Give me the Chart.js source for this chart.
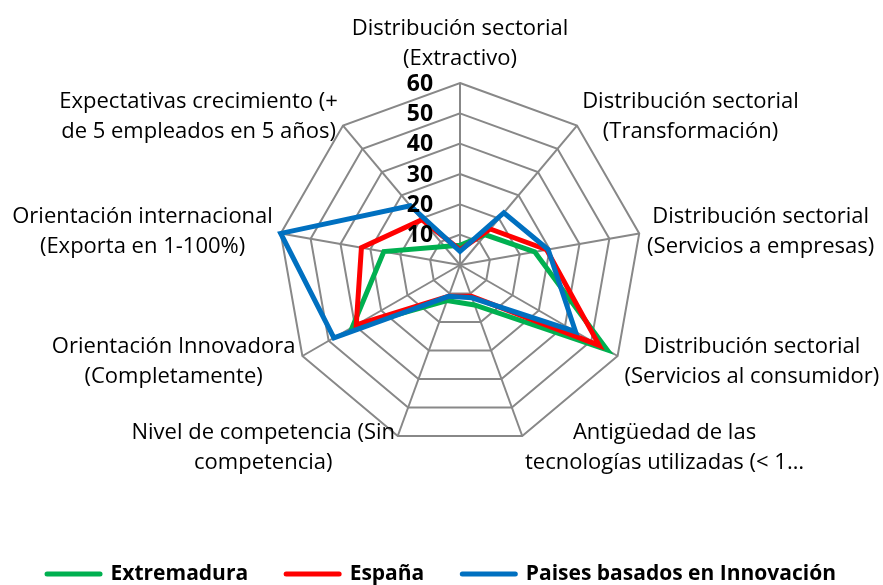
<!DOCTYPE html>
<html>
<head>
<meta charset="utf-8">
<script src="https://cdn.jsdelivr.net/npm/chart.js@4/dist/chart.umd.min.js"></script>
<style>
  html, body { margin: 0; padding: 0; background: #fff; }
  #wrap { width: 883px; height: 585px; position: relative; }
</style>
</head>
<body>
<div id="wrap"><canvas id="radar"></canvas></div>
<script>
'use strict';

// Axis labels, clockwise from the top
const categories = [
  ['Distribución sectorial', '(Extractivo)'],
  ['Distribución sectorial', '(Transformación)'],
  ['Distribución sectorial', '(Servicios a empresas)'],
  ['Distribución sectorial', '(Servicios al consumidor)'],
  ['Antigüedad de las', 'tecnologías utilizadas (< 1…'],
  ['Nivel de competencia (Sin', 'competencia)'],
  ['Orientación Innovadora', '(Completamente)'],
  ['Orientación internacional', '(Exporta en 1-100%)'],
  ['Expectativas crecimiento (+', 'de 5 empleados en 5 años)'],
];

const extremadura = [6.5, 13, 25, 56, 14, 12.5, 41, 25.5, 8];
const espana = [5, 15.5, 29, 53, 11, 11, 39.5, 33, 19.5];
const innovacion = [4.5, 22.5, 29.5, 44, 11.5, 11, 48, 60, 25.5];

const scaleTicks = [0, 10, 20, 30, 40, 50, 60];

const seriesNames = ['Extremadura', 'España', 'Paises basados en Innovación'];
const seriesColors = ['#00B050', '#FF0000', '#0070C0'];

Chart.defaults.font.family = '"Open Sans", sans-serif';

// Excel-style labels: bold ticks left of the top axis, wrapped axis labels
const excelLabels = {
  id: 'excelLabels',
  afterDraw(chart) {
    const scale = chart.scales.r;
    const ctx = chart.ctx;
    ctx.save();
    ctx.fillStyle = '#000';
    ctx.textAlign = 'center';
    ctx.textBaseline = 'middle';

    ctx.font = 'bold 23px "Open Sans"';
    scale.ticks.forEach(t => {
      if (t.value === scaleTicks[0]) return;
      const d = scale.getDistanceFromCenterForValue(t.value);
      ctx.fillText(t.label, scale.xCenter - 40, scale.yCenter - d + 1);
    });

    const lh = 30;
    ctx.font = '22px "Open Sans"';
    categories.forEach((lines, i) => {
      const p = scale.getPointPosition(i, scale.drawingArea + 8);
      const w = Math.max(...lines.map(l => ctx.measureText(l).width));
      const h = lines.length * lh;
      const dx = p.x - scale.xCenter;
      const dy = p.y - scale.yCenter;
      let cx, top;
      if (Math.abs(dx) < 2) {
        cx = p.x;
        top = p.y - h - 1;
      } else {
        cx = dx > 0 ? p.x + w / 2 : p.x - w / 2;
        top = p.y - h / 2 + dy / scale.drawingArea * 4;
      }
      lines.forEach((l, k) => ctx.fillText(l, cx, top + lh * (k + 0.5)));
    });
    ctx.restore();
  },
};

const datasets = [extremadura, espana, innovacion].map((values, i) => ({
  label: seriesNames[i],
  data: values,
  borderColor: seriesColors[i],
  backgroundColor: seriesColors[i],
  borderWidth: 5,
  fill: false,
  pointRadius: 0,
  pointHoverRadius: 0,
  order: 2 - i, // blue on top
}));

new Chart(document.getElementById('radar'), {
  type: 'radar',
  data: { labels: categories, datasets },
  options: {
    responsive: true,
    maintainAspectRatio: false,
    animation: false,
    layout: { padding: { bottom: -9.5 } },
    plugins: {
      tooltip: { enabled: false },
      legend: {
        position: 'bottom',
        labels: {
          usePointStyle: true,
          pointStyle: 'line',
          pointStyleWidth: 53,
          padding: 38,
          color: '#000',
          font: { size: 21, weight: 'bold' },
          generateLabels: chart =>
            chart.data.datasets.map((ds, i) => ({
              text: ds.label,
              strokeStyle: ds.borderColor,
              fillStyle: ds.borderColor,
              lineWidth: 5,
              lineCap: 'round',
              pointStyle: 'line',
              fontColor: '#000',
              hidden: !chart.isDatasetVisible(i),
              datasetIndex: i,
            })),
        },
      },
    },
    scales: {
      r: {
        min: scaleTicks[0],
        max: scaleTicks[scaleTicks.length - 1],
        ticks: { stepSize: scaleTicks[1] - scaleTicks[0], display: false },
        grid: { color: '#888888', lineWidth: 2 },
        angleLines: { color: '#888888', lineWidth: 2 },
        pointLabels: { display: false },
        afterFit(scale) {
          // plot sits right of centre with a fixed radius, like the Excel original
          scale.drawingArea = 182;
          scale.xCenter = 460;
          scale.yCenter = 265;
        },
      },
    },
  },
  plugins: [excelLabels],
});
</script>
</body>
</html>
